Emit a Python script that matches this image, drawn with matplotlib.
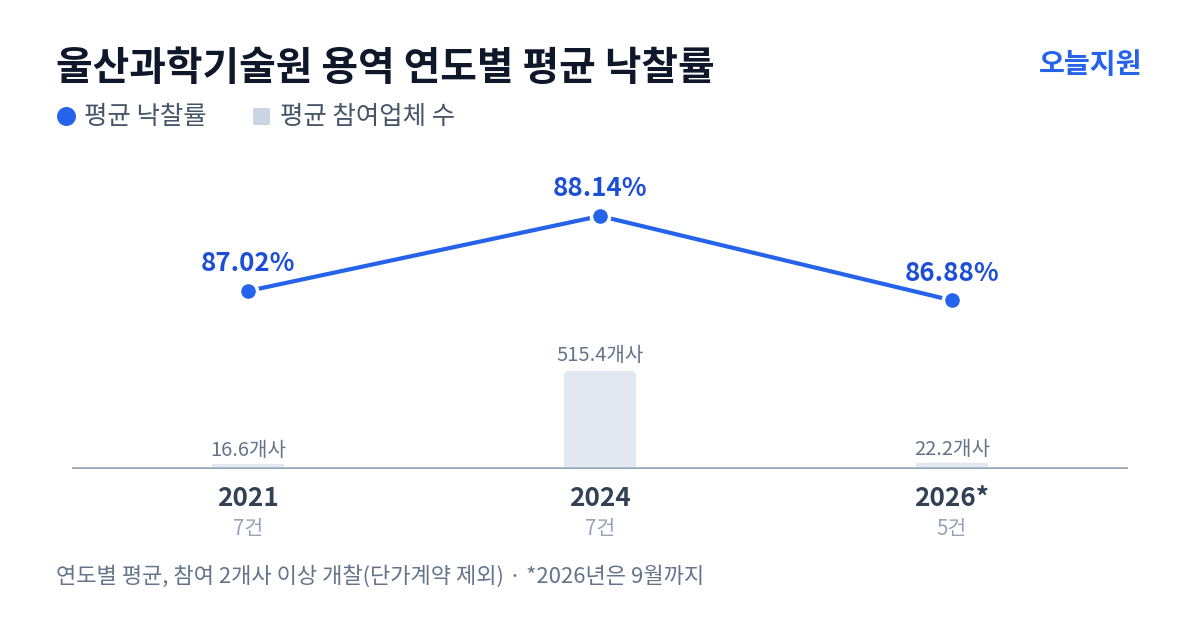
import matplotlib
matplotlib.use("Agg")
import matplotlib.pyplot as plt
from matplotlib.patches import FancyBboxPatch

plt.rcParams['font.family'] = ['Noto Sans CJK KR', 'DejaVu Sans']

# 데이터
years = ['2021', '2024', '2026*']
counts = ['7건', '7건', '5건']
rates = [87.02, 88.14, 86.88]
firms = [16.6, 515.4, 22.2]

W, H = 1200, 630
fig = plt.figure(figsize=(12, 6.3), dpi=100)
fig.patch.set_facecolor('white')


def px_axes(x0, y0, x1, y1):
    # 픽셀 좌표(위에서부터)로 axes 생성
    return fig.add_axes([x0 / W, 1 - y1 / H, (x1 - x0) / W, (y1 - y0) / H])


# 제목, 브랜드
fig.text(56 / W, 1 - 68 / H, '울산과학기술원 용역 연도별 평균 낙찰률', fontsize=28.7,
         fontweight='bold', color='#0f172a', va='center', ha='left')
fig.text(1142 / W, 1 - 65 / H, '오늘지원', fontsize=20.3, fontweight='bold',
         color='#2563eb', va='center', ha='right')

# 범례
fig.text(84 / W, 1 - 117 / H, '평균 낙찰률', fontsize=18.3, color='#475569', va='center')
fig.text(280 / W, 1 - 117 / H, '평균 참여업체 수', fontsize=18.3, color='#475569', va='center')
lg = px_axes(0, 100, W, 132)
lg.set_xlim(0, W)
lg.set_ylim(132, 100)
lg.axis('off')
lg.scatter([66], [116], s=160, color='#2563eb', zorder=3)
lg.add_patch(FancyBboxPatch((253, 108), 17, 17, boxstyle='round,pad=0,rounding_size=2',
                            facecolor='#cbd5e1', edgecolor='none'))

xs = list(range(len(years)))

# 막대 (참여업체 수)
bar_ax = px_axes(72, 347, 1128, 467)
bar_ax.set_xlim(-0.5, 2.5)
ymax = 515.4 * 120 / 96
bar_ax.set_ylim(0, ymax)
bar_ax.axis('off')
bw = 72 / 352
px_y = ymax / 120  # data per px (y)
px_x = 3 / 1056    # data per px (x)
for x, v in zip(xs, firms):
    r = min(5, v / px_y / 2)
    bar_ax.add_patch(FancyBboxPatch((x - bw / 2, 0), bw, v,
                                    boxstyle=f'round,pad=0,rounding_size={r * px_x}',
                                    mutation_aspect=px_y / px_x,
                                    facecolor='#e2e8f0', edgecolor='none'))
    bar_ax.bar(x, min(v, 5 * px_y), bw, color='#e2e8f0', linewidth=0)
    off = 11.5 if v > 100 else 9.5
    bar_ax.annotate(f'{v:.1f}개사', (x, v), xytext=(0, off), textcoords='offset points',
                    ha='center', va='center', fontsize=14.5, color='#64748b')

# 기준선
base = px_axes(72, 466, 1128, 469)
base.axis('off')
base.axhline(0.5, color='#94a3b8', lw=1.8)
base.set_ylim(0, 1)

# 선 (평균 낙찰률)
line_ax = px_axes(72, 150, 1128, 350)
line_ax.set_xlim(-0.5, 2.5)
k = 75 / (88.14 - 87.02)
line_ax.set_ylim(88.14 - 134 / k, 88.14 + 66 / k)
line_ax.axis('off')
line_ax.plot(xs, rates, color='#2563eb', lw=3, zorder=2)
line_ax.scatter(xs, rates, s=170, color='#2563eb', edgecolor='white', linewidth=2.5, zorder=3)
for x, v in zip(xs, rates):
    line_ax.annotate(f'{v:.2f}%', (x, v), xytext=(0, 19.5), textcoords='offset points',
                     ha='center', va='center', fontsize=18.6, fontweight='bold', color='#1d4ed8')

# x축 라벨
for x, y, c in zip(xs, years, counts):
    xp = 72 + (x + 0.5) * 352
    fig.text(xp / W, 1 - 499 / H, y, fontsize=18.8, fontweight='bold', color='#334155',
             ha='center', va='center')
    fig.text(xp / W, 1 - 529 / H, c, fontsize=14.8, color='#94a3b8', ha='center', va='center')

# 각주
fig.text(56 / W, 1 - 576 / H, '연도별 평균, 참여 2개사 이상 개찰(단가계약 제외) · *2026년은 9월까지',
         fontsize=15.9, color='#64748b', va='center', ha='left')

fig.savefig('out.png', dpi=100)
